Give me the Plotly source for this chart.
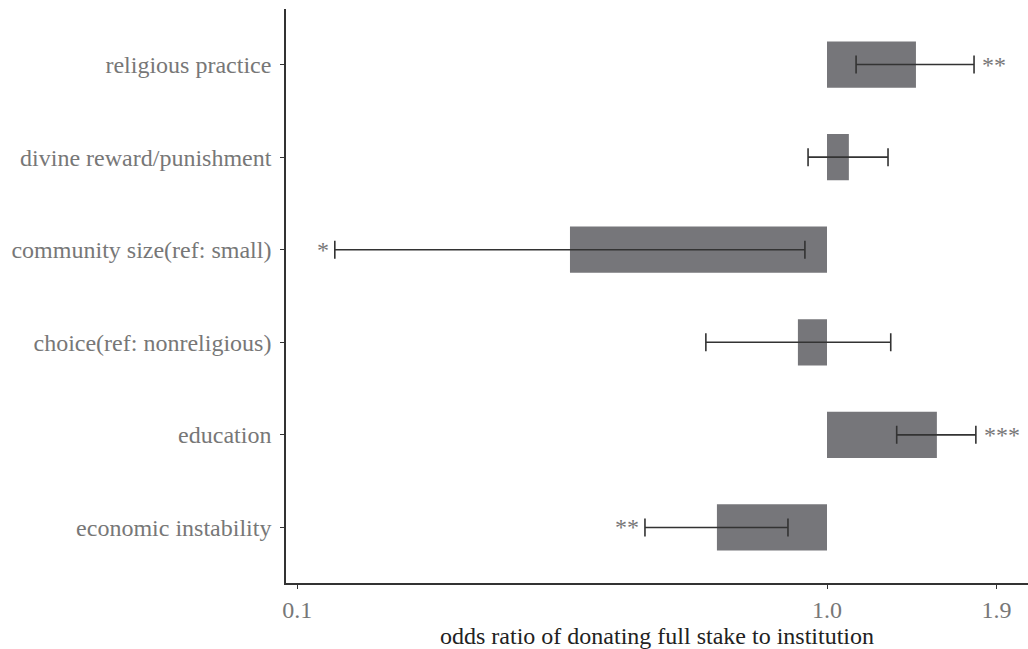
import math
import plotly.graph_objects as go

# Predictors, bottom to top
predictors = [
    "economic instability",
    "education",
    "choice(ref: nonreligious)",
    "community size(ref: small)",
    "divine reward/punishment",
    "religious practice",
]
odds_ratio = [0.660, 1.514, 0.896, 0.379, 1.086, 1.399]
ci_low = [0.503, 1.301, 0.633, 0.156, 0.931, 1.116]
ci_high = [0.863, 1.754, 1.272, 0.920, 1.259, 1.742]
significance = ["**", "***", "", "*", "", "**"]

# Axis ticks placed in log-odds units, labelled as odds ratios
tick_log_odds = [-2.0, 0.0, 0.64]

BAR_COLOR = "#76767a"
LINE_COLOR = "#333333"
TEXT_COLOR = "#777777"
TITLE_COLOR = "#222222"
FONT = "Liberation Serif"
SIZE = 24

tick_vals = [math.exp(v) for v in tick_log_odds]
tick_text = [f"{v:.1f}" for v in tick_vals]

fig = go.Figure()

# Bars start at the null value (odds ratio 1)
fig.add_trace(go.Bar(
    y=predictors,
    x=[v - 1.0 for v in odds_ratio],
    base=[1.0] * len(odds_ratio),
    orientation="h",
    width=0.5,
    marker=dict(color=BAR_COLOR, line=dict(width=0)),
    hoverinfo="skip",
    showlegend=False,
))

# Confidence intervals
fig.add_trace(go.Scatter(
    y=predictors,
    x=odds_ratio,
    mode="markers",
    marker=dict(size=1, color="rgba(0,0,0,0)"),
    error_x=dict(
        type="data",
        symmetric=False,
        array=[h - o for h, o in zip(ci_high, odds_ratio)],
        arrayminus=[o - l for o, l in zip(odds_ratio, ci_low)],
        color=LINE_COLOR,
        thickness=1.6,
        width=9,
    ),
    hoverinfo="skip",
    showlegend=False,
))

# Significance stars beside the interval end away from 1
for name, o, lo, hi, sig in zip(predictors, odds_ratio, ci_low, ci_high, significance):
    if not sig:
        continue
    if o >= 1:
        fig.add_annotation(x=math.log10(hi), y=name, text=sig, showarrow=False,
                           xanchor="left", xshift=6, yshift=0,
                           font=dict(family=FONT, size=SIZE, color=TEXT_COLOR))
    else:
        fig.add_annotation(x=math.log10(lo), y=name, text=sig, showarrow=False,
                           xanchor="right", xshift=-4, yshift=0,
                           font=dict(family=FONT, size=SIZE, color=TEXT_COLOR))

px_per_decade = 610.0
left_px, right_px, one_px = 286.0, 1028.0, 827.0

fig.update_layout(
    width=1028,
    height=649,
    margin=dict(l=286, r=0, t=9, b=66),
    paper_bgcolor="white",
    plot_bgcolor="white",
    font=dict(family=FONT, size=SIZE, color=TEXT_COLOR),
    xaxis=dict(
        type="log",
        range=[(left_px - one_px) / px_per_decade, (right_px - one_px) / px_per_decade],
        tickvals=tick_vals,
        ticktext=tick_text,
        ticks="outside",
        ticklen=4,
        tickwidth=1,
        tickcolor=LINE_COLOR,
        showline=True,
        linecolor=LINE_COLOR,
        linewidth=1.6,
        showgrid=False,
        zeroline=False,
        ticklabelstandoff=0,
        tickfont=dict(family=FONT, size=SIZE, color=TEXT_COLOR),
        title=dict(text="odds ratio of donating full stake to institution",
                   font=dict(family=FONT, size=SIZE, color=TITLE_COLOR), standoff=2),
    ),
    yaxis=dict(
        categoryorder="array",
        categoryarray=predictors,
        range=[-0.6, 5.6],
        ticks="outside",
        ticklen=4,
        tickwidth=1,
        tickcolor=LINE_COLOR,
        showline=True,
        linecolor=LINE_COLOR,
        linewidth=1.6,
        showgrid=False,
        zeroline=False,
        ticklabelstandoff=4,
        tickfont=dict(family=FONT, size=SIZE, color=TEXT_COLOR),
    ),
)

fig.write_html("out.html")
